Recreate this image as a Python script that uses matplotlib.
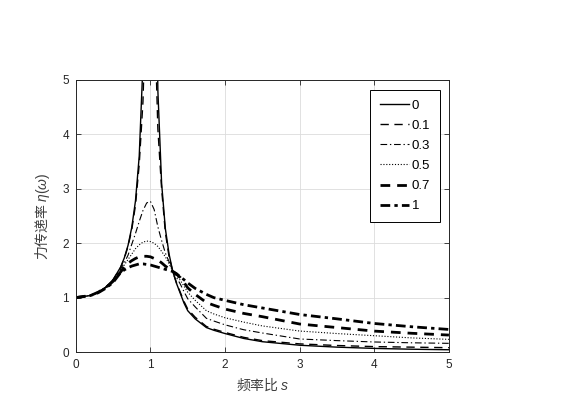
import numpy as np
import matplotlib
matplotlib.use("Agg")
import matplotlib.pyplot as plt

# frequency ratio s and transmissibility values
s = [0, 0.2, 0.3, 0.4, 0.5, 0.6, 0.65, 0.7, 0.75, 0.8, 0.85, 0.9, 0.95, 1.0, 1.05, 1.1,
     1.15, 1.2, 1.25, 1.3, 1.35, 1.4, 1.45, 1.5, 1.6, 1.75, 1.85, 2.0, 2.25, 2.5,
     3.0, 3.5, 4.0, 4.5, 5.0]

eta_0 = [1.0, 1.04, 1.1, 1.19, 1.33, 1.56, 1.73, 1.96, 2.29, 2.78, 3.6, 5.3, 10.3, np.nan,
         9.8, 4.8, 3.1, 2.27, 1.8, 1.48, 1.26, 1.08, 0.9, 0.76, 0.61, 0.45, 0.4, 0.34,
         0.25, 0.19, 0.125, 0.09, 0.067, 0.052, 0.042]
eta_01 = [1.0, 1.04, 1.1, 1.19, 1.33, 1.55, 1.72, 1.94, 2.25, 2.7, 3.45, 4.6, 7.0, 8.0,
          6.5, 4.1, 3.0, 2.2, 1.75, 1.48, 1.27, 1.1, 0.93, 0.79, 0.64, 0.47, 0.42, 0.36,
          0.27, 0.21, 0.15, 0.12, 0.1, 0.09, 0.08]
eta_03 = [1.0, 1.04, 1.1, 1.18, 1.32, 1.52, 1.64, 1.78, 1.98, 2.18, 2.4, 2.6, 2.74, 2.77,
          2.62, 2.3, 2.05, 1.82, 1.66, 1.49, 1.37, 1.25, 1.11, 0.98, 0.83, 0.62, 0.57, 0.5,
          0.41, 0.35, 0.24, 0.21, 0.185, 0.17, 0.16]
eta_05 = [1.0, 1.04, 1.1, 1.18, 1.31, 1.5, 1.6, 1.7, 1.8, 1.9, 1.97, 2.02, 2.04, 2.03,
          2.0, 1.94, 1.85, 1.75, 1.62, 1.49, 1.41, 1.32, 1.21, 1.1, 0.95, 0.76, 0.7, 0.63,
          0.55, 0.48, 0.386, 0.34, 0.3, 0.26, 0.233]
eta_07 = [1.0, 1.04, 1.1, 1.18, 1.3, 1.47, 1.56, 1.63, 1.68, 1.72, 1.75, 1.76, 1.76, 1.75,
          1.72, 1.69, 1.64, 1.58, 1.53, 1.48, 1.43, 1.37, 1.28, 1.18, 1.06, 0.91, 0.86, 0.79,
          0.71, 0.65, 0.515, 0.45, 0.385, 0.345, 0.312]
eta_1 = [1.0, 1.04, 1.09, 1.17, 1.28, 1.46, 1.51, 1.55, 1.58, 1.6, 1.62, 1.62, 1.61, 1.6,
         1.58, 1.56, 1.54, 1.52, 1.5, 1.48, 1.44, 1.38, 1.33, 1.27, 1.17, 1.06, 1.0, 0.95,
         0.87, 0.81, 0.69, 0.61, 0.525, 0.465, 0.415]

labels = ['0', '0.1', '0.3', '0.5', '0.7', '1']
series = [eta_0, eta_01, eta_03, eta_05, eta_07, eta_1]
styles = [
    dict(linestyle='-', linewidth=1.0),
    dict(linestyle=(0, (6, 4)), linewidth=1.0),
    dict(linestyle=(0, (6, 2.5, 1.2, 2.5)), linewidth=0.8),
    dict(linestyle=(0, (1, 1.6)), linewidth=0.8),
    dict(linestyle=(0, (3.5, 2.5)), linewidth=2.0),
    dict(linestyle=(0, (3.5, 1.5, 1.2, 1.5)), linewidth=2.0),
]

plt.rcParams['font.family'] = ['Liberation Sans', 'Noto Sans CJK SC', 'DejaVu Sans']
plt.rcParams['mathtext.fontset'] = 'custom'
plt.rcParams['mathtext.it'] = 'Liberation Sans:italic'
plt.rcParams['mathtext.rm'] = 'Liberation Sans'

fig = plt.figure(figsize=(5.83, 3.96), dpi=100)
ax = fig.add_axes([0.13, 0.111, 0.640, 0.687])

for y, lab, st in zip(series, labels, styles):
    ax.plot(s, y, color='black', label=lab, **st)

ax.set_xlim(0, 5)
ax.set_ylim(0, 5)
ax.set_xticks(range(6))
ax.set_yticks(range(6))
ax.grid(True, color='#dcdcdc', linewidth=0.6)
ax.set_axisbelow(True)
ax.tick_params(direction='in', length=3.5, width=0.6, top=True, right=True,
               labelsize=8.5, colors='#262626', pad=5)
for sp in ax.spines.values():
    sp.set_linewidth(0.7)
    sp.set_color('#262626')

ax.set_xlabel('频率比 $s$', fontsize=10, color='#404040',
              family=['Noto Sans CJK SC', 'DejaVu Sans'], labelpad=3)
ax.set_ylabel('力传递率 $\\eta(\\omega)$', fontsize=10, color='#404040',
              family=['Noto Sans CJK SC', 'DejaVu Sans'], labelpad=7)

leg = ax.legend(loc='upper right', bbox_to_anchor=(0.977, 0.965), fontsize=9.5,
                handlelength=2.2, handletextpad=0.25, labelspacing=0.6,
                borderpad=0.75, borderaxespad=0, fancybox=False, framealpha=1)
leg.get_frame().set_edgecolor('black')
leg.get_frame().set_linewidth(0.7)

fig.savefig('out.png', dpi=100)
